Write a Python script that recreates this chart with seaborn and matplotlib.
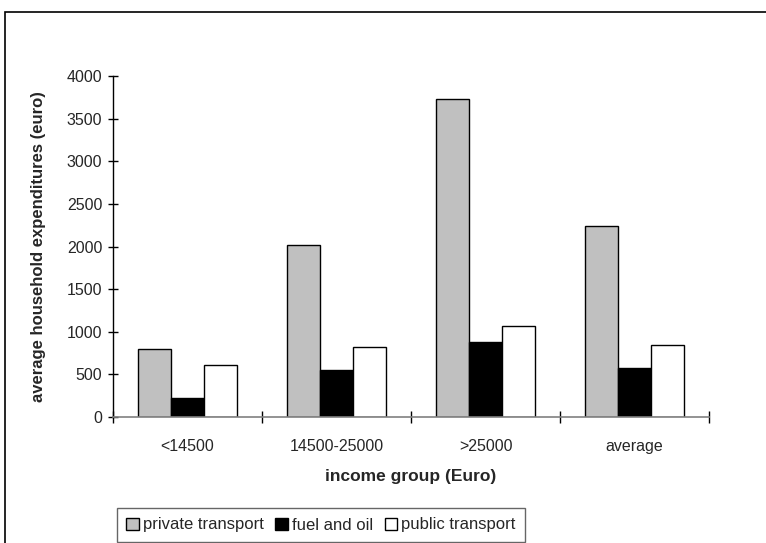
import matplotlib
matplotlib.use("Agg")
import matplotlib.pyplot as plt
import matplotlib.patches as mpatches
import seaborn as sns
import pandas as pd
import numpy as np

categories = ["<14500", "14500-25000", ">25000", "average"]
series = ["private transport", "fuel and oil", "public transport"]
private_transport = [800, 2015, 3730, 2240]
fuel_and_oil = [225, 550, 880, 570]
public_transport = [610, 820, 1065, 840]
yticks = [0, 500, 1000, 1500, 2000, 2500, 3000, 3500, 4000]

colors = {"private transport": "#C0C0C0", "fuel and oil": "#000000", "public transport": "#FFFFFF"}

rows = []
for name, vals in zip(series, [private_transport, fuel_and_oil, public_transport]):
    for c, v in zip(categories, vals):
        rows.append({"group": c, "series": name, "value": v})
df = pd.DataFrame(rows)

sns.set_style("ticks")
plt.rcParams["font.family"] = ["Liberation Sans", "DejaVu Sans"]

fig = plt.figure(figsize=(7.66, 5.43), dpi=100)
ax = fig.add_axes([113/766, 1-417/543, (709-113)/766, (417-76)/543])

sns.barplot(data=df, x="group", y="value", hue="series", order=categories,
            hue_order=series, palette=colors, edgecolor="black", linewidth=1.0,
            width=0.66, gap=0, saturation=1, ax=ax, legend=False, errorbar=None)

ax.set_ylim(0, 4000)
ax.set_xlim(-0.5, len(categories) - 0.5)
ax.set_yticks(yticks)
ax.set_yticklabels([str(t) for t in yticks], fontsize=11.5)
ax.set_xticks(range(len(categories)))
ax.set_xticklabels(categories, fontsize=11.5)
ax.tick_params(axis="x", which="major", length=0, pad=16)
ax.set_xticks(np.arange(-0.5, len(categories)), minor=True)
ax.tick_params(axis="x", which="minor", direction="inout", length=8, width=1, color="black")
ax.tick_params(axis="y", direction="inout", length=7.5, width=1, color="black", pad=4)

for s in ["top", "right"]:
    ax.spines[s].set_visible(False)
ax.spines["left"].set_color("black")
ax.spines["left"].set_linewidth(1)
ax.spines["bottom"].set_color("#808080")
ax.spines["bottom"].set_linewidth(1.2)

ax.set_xlabel("income group (Euro)", fontsize=12.5, fontweight="bold", labelpad=11)
ax.set_ylabel("average household expenditures (euro)", fontsize=12, fontweight="bold", labelpad=15)

handles = [mpatches.Patch(facecolor=colors[s], edgecolor="black", linewidth=1, label=s) for s in series]
leg = fig.legend(handles=handles, loc="center", bbox_to_anchor=(321/766, 1-525/543), ncol=3,
                 fontsize=12, frameon=True, fancybox=False, handlelength=0.75, handleheight=0.75,
                 handletextpad=0.25, columnspacing=0.7, borderpad=0.55, borderaxespad=0)
leg.get_frame().set_edgecolor("#404040")
leg.get_frame().set_linewidth(1)

border = mpatches.Rectangle((5/766, -0.05), 1.1, 1-12/543 + 0.05, transform=fig.transFigure,
                            fill=False, edgecolor="black", linewidth=1.2)
fig.patches.append(border)

fig.savefig("out.png", dpi=100)
